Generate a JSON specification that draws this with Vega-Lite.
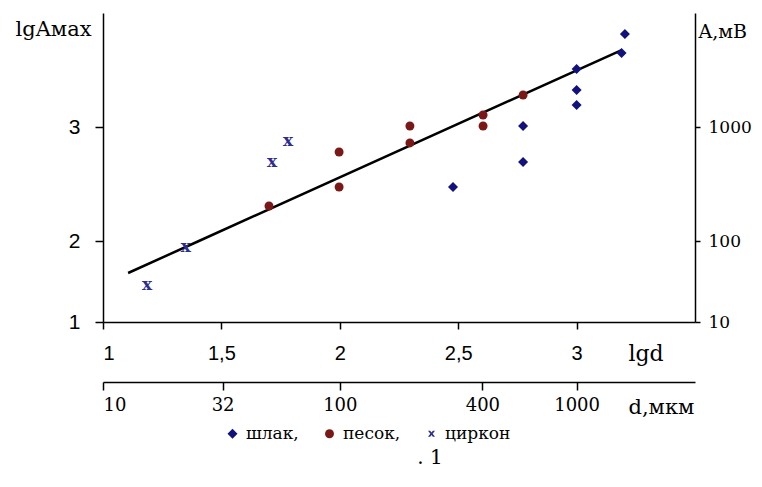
{
  "$schema": "https://vega.github.io/schema/vega-lite/v6.json",
  "width": 592,
  "height": 309,
  "autosize": {"type": "none"},
  "padding": {"left": 103, "top": 13, "right": 67, "bottom": 165},
  "background": "white",
  "title": {"text": ". 1", "orient": "bottom", "anchor": "middle", "font": "DejaVu Serif", "fontSize": 20, "fontWeight": "normal", "color": "black", "offset": 6, "dx": 31},
  "datasets": {
    "trend": [
      {"x": 1.106, "y": 1.605},
      {"x": 1.405, "y": 2.0},
      {"x": 3.19, "y": 3.675}
    ],
    "pts": [
      {"type": "шлак", "x": 2.478, "y": 2.474},
      {"type": "шлак", "x": 2.774, "y": 3.009},
      {"type": "шлак", "x": 2.774, "y": 2.693},
      {"type": "шлак", "x": 3.0, "y": 3.509},
      {"type": "шлак", "x": 3.0, "y": 3.325},
      {"type": "шлак", "x": 3.0, "y": 3.193},
      {"type": "шлак", "x": 3.19, "y": 3.649},
      {"type": "шлак", "x": 3.204, "y": 3.816},
      {"type": "песок", "x": 1.701, "y": 2.307},
      {"type": "песок", "x": 1.997, "y": 2.781},
      {"type": "песок", "x": 1.997, "y": 2.474},
      {"type": "песок", "x": 2.296, "y": 3.009},
      {"type": "песок", "x": 2.296, "y": 2.86},
      {"type": "песок", "x": 2.605, "y": 3.105},
      {"type": "песок", "x": 2.605, "y": 3.009},
      {"type": "песок", "x": 2.774, "y": 3.281},
      {"type": "циркон", "x": 1.186, "y": 1.444},
      {"type": "циркон", "x": 1.35, "y": 1.914},
      {"type": "циркон", "x": 1.714, "y": 2.684},
      {"type": "циркон", "x": 1.781, "y": 2.868}
    ]
  },
  "config": {
    "view": {"stroke": null},
    "axis": {"grid": false, "domainColor": "black", "tickColor": "black", "labelColor": "black", "titleColor": "black", "domainWidth": 1.5, "tickWidth": 1.5, "titleFontWeight": "normal"}
  },
  "layer": [
    {
      "data": {"name": "trend"},
      "mark": {"type": "line", "color": "black", "strokeWidth": 2.5},
      "encoding": {
        "x": {"field": "x", "type": "quantitative",
          "scale": {"domain": [1, 3.5], "nice": false, "zero": false},
          "axis": {"orient": "bottom", "values": [1, 1.5, 2, 2.5, 3], "labelExpr": "replace('' + datum.value, '.', ',')",
            "tickSize": 7, "labelPadding": 14, "labelFont": "Liberation Sans", "labelFontSize": 20,
            "title": "lgd", "titleFont": "DejaVu Serif", "titleFontSize": 22, "titleAngle": 0, "titleAlign": "left", "titleBaseline": "alphabetic", "titleX": 525, "titleY": 38}},
        "y": {"field": "y", "type": "quantitative",
          "scale": {"domain": [1, 2, 4], "range": [309, 228, 0], "nice": false, "zero": false},
          "axis": {"orient": "left", "values": [1, 2, 3], "format": "d",
            "tickSize": 8, "labelPadding": 15, "labelFont": "Liberation Sans", "labelFontSize": 21,
            "title": "lgAмах", "titleFont": "DejaVu Serif", "titleFontSize": 21, "titleAngle": 0, "titleAlign": "left", "titleBaseline": "alphabetic", "titleX": -88, "titleY": 22}}
      }
    },
    {
      "data": {"name": "pts"},
      "transform": [{"filter": "datum.type != 'циркон'"}],
      "mark": {"type": "point", "filled": true, "opacity": 1, "size": 90},
      "encoding": {
        "x": {"field": "x", "type": "quantitative",
          "axis": {"orient": "bottom", "offset": 60, "values": [1, 1.505, 2, 2.602, 3], "labelExpr": "'' + round(pow(10, datum.value))",
            "tickSize": 8, "labelPadding": 6, "labelFont": "DejaVu Serif", "labelFontSize": 18,
            "title": "d,мкм", "titleFont": "DejaVu Serif", "titleFontSize": 21, "titleAngle": 0, "titleAlign": "left", "titleBaseline": "alphabetic", "titleX": 525, "titleY": 31}},
        "y": {"field": "y", "type": "quantitative",
          "axis": {"orient": "right", "values": [1, 2, 3], "labelExpr": "'' + round(pow(10, datum.value))",
            "tickSize": 5, "labelPadding": 8, "labelFont": "DejaVu Serif", "labelFontSize": 17,
            "title": "A,мВ", "titleFont": "DejaVu Serif", "titleFontSize": 19, "titleAngle": 0, "titleAlign": "left", "titleBaseline": "alphabetic", "titleX": 3, "titleY": 24}},
        "color": {"field": "type", "type": "nominal",
          "scale": {"domain": ["шлак", "песок", "циркон"], "range": ["#12127e", "#7a1818", "#2d2d8f"]},
          "legend": {"orient": "none", "direction": "horizontal", "legendX": 121, "legendY": 412, "title": null,
            "labelExpr": "datum.label == 'циркон' ? datum.label : datum.label + ','",
            "labelFont": "DejaVu Serif", "labelFontSize": 17, "labelColor": "black", "symbolSize": 45, "labelOffset": 5, "columnPadding": 22, "symbolStrokeWidth": 0}},
        "shape": {"field": "type", "type": "nominal",
          "scale": {"domain": ["шлак", "песок", "циркон"], "range": ["diamond", "circle", "M-0.9,-0.8L-0.35,-0.8L0,-0.3L0.35,-0.8L0.9,-0.8L0.3,0L0.9,0.8L0.35,0.8L0,0.3L-0.35,0.8L-0.9,0.8L-0.3,0Z"]}},
        "size": {"field": "type", "type": "nominal", "legend": null,
          "scale": {"domain": ["шлак", "песок", "циркон"], "range": [100, 60, 80]}}
      }
    },
    {
      "data": {"name": "pts"},
      "transform": [{"filter": "datum.type == 'циркон'"}],
      "mark": {"type": "text", "text": "x", "font": "DejaVu Serif", "fontWeight": "bold", "fontSize": 17, "baseline": "middle", "align": "center", "dy": -1, "color": "#2d2d8f"},
      "encoding": {
        "x": {"field": "x", "type": "quantitative", "axis": null},
        "y": {"field": "y", "type": "quantitative", "axis": null}
      }
    }
  ],
  "resolve": {"axis": {"x": "independent", "y": "independent"}}
}
